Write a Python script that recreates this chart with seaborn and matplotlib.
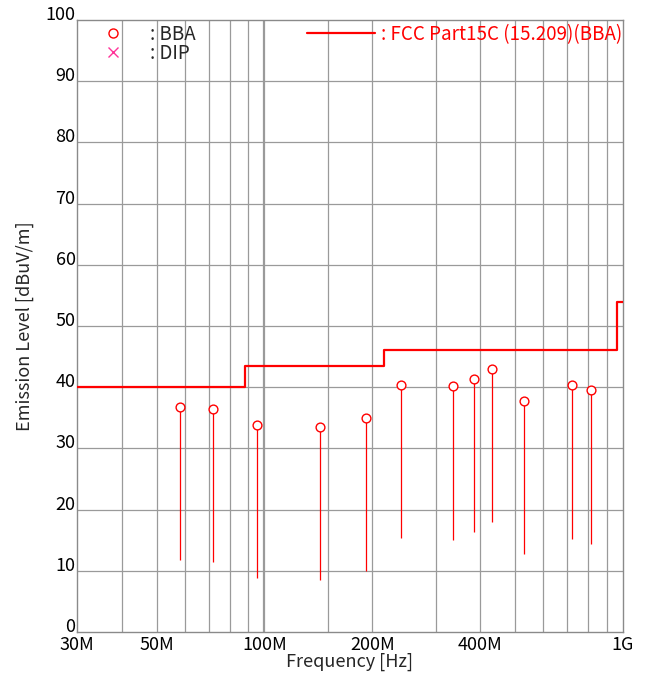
import matplotlib
matplotlib.use("Agg")
import matplotlib.pyplot as plt
from matplotlib.lines import Line2D
import seaborn as sns
import pandas as pd

# ---- data ----
freq_mhz = [58.1, 71.7, 95.5, 143.0, 191.6, 240.0, 335.8, 384.0, 432.0, 528.6, 720.0, 816.0]
level_dbuv = [36.8, 36.5, 33.8, 33.5, 35.0, 40.4, 40.2, 41.3, 42.9, 37.7, 40.3, 39.5]
stem_bottom = [11.8, 11.5, 8.8, 8.5, 10.0, 15.4, 15.1, 16.3, 17.9, 12.8, 15.2, 14.4]

limit_freq = [30, 88, 216, 960, 1000]
limit_level = [40, 43.5, 46, 54, 54]

xtick_vals = [30, 50, 100, 200, 400, 1000]
xtick_labels = ["30M", "50M", "100M", "200M", "400M", "1G"]
xgrid_vals = [40, 50, 60, 70, 80, 90, 100, 150, 200, 300, 400, 500, 600, 700, 800, 900]
ytick_vals = list(range(0, 101, 10))

sns.set_theme(style="white")
plt.rcParams["font.family"] = ["Noto Sans CJK JP", "DejaVu Sans"]

FS = 13

fig = plt.figure(figsize=(6.46, 6.74), dpi=100)
ax = fig.add_axes([77 / 646, 42 / 674, 546 / 646, 612 / 674])
ax.set_xscale("log")
ax.set_xlim(30, 1000)
ax.set_ylim(0, 100)

# grid
for g in xgrid_vals:
    ax.axvline(g, color="#9a9a9a", lw=1.6 if g == 100 else 0.9, zorder=0)
for g in ytick_vals[1:-1]:
    ax.axhline(g, color="#9a9a9a", lw=0.9, zorder=0)

df_lim = pd.DataFrame({"f": limit_freq, "lvl": limit_level})
sns.lineplot(data=df_lim, x="f", y="lvl", drawstyle="steps-post", color="red",
             lw=1.6, ax=ax, zorder=3)

df = pd.DataFrame({"f": freq_mhz, "lvl": level_dbuv, "bot": stem_bottom})
ax.vlines(df["f"], df["bot"], df["lvl"], color="red", lw=0.9, zorder=2)
sns.scatterplot(data=df, x="f", y="lvl", marker="o", s=40, facecolor="white",
                edgecolor="red", linewidth=1.0, ax=ax, zorder=4)

ax.set_xticks(xtick_vals)
ax.set_xticklabels(xtick_labels)
ax.xaxis.set_minor_locator(matplotlib.ticker.NullLocator())
ax.set_yticks(ytick_vals)
ax.set_yticklabels([str(v) for v in ytick_vals])
for lbl in ax.get_yticklabels():
    lbl.set_va("baseline")
ax.tick_params(axis="both", length=0, labelsize=FS, colors="black")
ax.tick_params(axis="x", pad=3)
ax.tick_params(axis="y", pad=1)

ax.set_xlabel("Frequency [Hz]", fontsize=FS, labelpad=-1)
ax.set_ylabel("Emission Level [dBuV/m]", fontsize=FS, labelpad=8)

for sp in ax.spines.values():
    sp.set_color("#8a8a8a")
    sp.set_linewidth(1.0)

# legends
h1 = [Line2D([], [], marker="o", ls="none", mfc="none", mec="red", ms=6.5, mew=1.0),
      Line2D([], [], marker="x", ls="none", color="#ff3399", ms=7, mew=1.0)]
leg1 = ax.legend(h1, [": BBA", ": DIP"], loc="upper left",
                 bbox_to_anchor=(0.05, 0.994), frameon=False, fontsize=13.5,
                 handlelength=0.9, handletextpad=1.55, borderpad=0, borderaxespad=0,
                 labelspacing=-0.1)
ax.add_artist(leg1)
h2 = [Line2D([], [], color="red", lw=1.6)]
leg2 = ax.legend(h2, [": FCC Part15C (15.209)(BBA)"], loc="upper left",
                 bbox_to_anchor=(0.422, 0.994), frameon=False, fontsize=13.5,
                 handlelength=3.6, handletextpad=0.35, borderpad=0, borderaxespad=0)
for t in leg2.get_texts():
    t.set_color("red")

fig.savefig("out.png", dpi=100)
